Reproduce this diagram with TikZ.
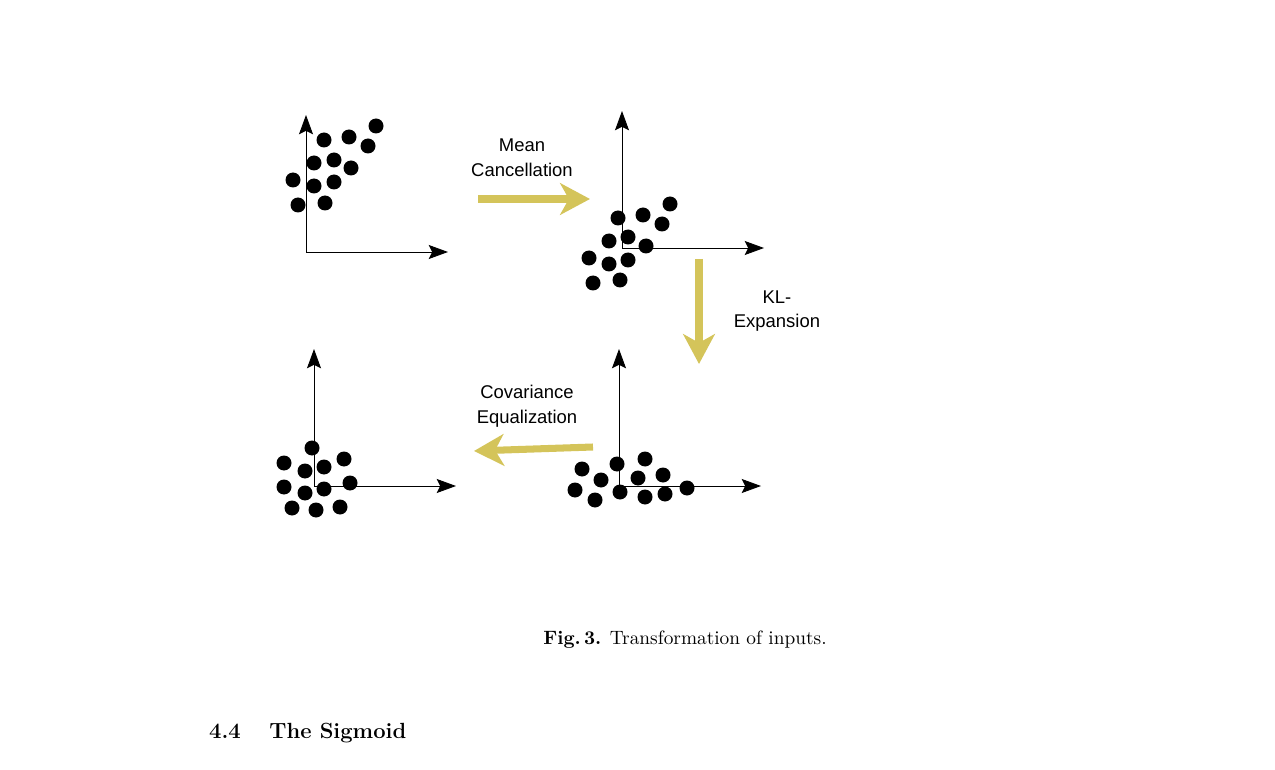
\documentclass[tikz,border=0pt]{standalone}
\usepackage{fontspec}
\usepackage{xcolor}
\usetikzlibrary{arrows.meta}
\newfontfamily\labelfont{Liberation Sans}
\setmainfont{Latin Modern Roman}
\definecolor{mustard}{RGB}{212,196,90}

\begin{document}
\begin{tikzpicture}[x=0.02cm, y=-0.02cm,
        axis/.style={-{Stealth[length=11pt,width=8pt,inset=2pt]}, line width=0.5pt},
        dot/.style={fill=black},
        transform arrow/.style={mustard, line width=4pt, -{Stealth[length=17pt,width=18pt,inset=5pt]}},
        lbl/.style={font=\labelfont\fontsize{10.5}{14}\selectfont, align=center}]
        \useasboundingbox (0,0) rectangle (1275,770);

        % Parameters
        \def\dotRadius{7.5}

        % axes of the four panels
        \foreach \name/\ox/\oy in {A/306/252, B/622/248, C/619/486, D/314/486} {
            \coordinate (\name) at (\ox,\oy);
            \draw[axis] (\name) -- ++(0,-137);
            \draw[axis] (\name) -- ++(142,0);
        }

        % raw inputs
        \foreach \x/\y in {324/140,349/137,376/126,368/146,314/163,334/160,351/168,
                           293/180,314/186,334/182,298/205,325/203}
            \fill[dot] (\x,\y) circle (\dotRadius);

        % mean cancelled
        \foreach \x/\y in {618/218,643/215,670/204,662/224,609/241,628/237,646/246,
                           589/258,609/264,628/260,593/283,620/280}
            \fill[dot] (\x,\y) circle (\dotRadius);

        % KL expanded
        \foreach \x/\y in {582/469,617/464,645/459,601/480,638/478,663/475,
                           575/490,620/492,595/500,645/497,665/494,687/488}
            \fill[dot] (\x,\y) circle (\dotRadius);

        % covariance equalized
        \foreach \x/\y in {312/448,284/463,305/471,324/467,344/459,284/487,
                           305/493,324/489,350/483,292/508,316/510,340/507}
            \fill[dot] (\x,\y) circle (\dotRadius);

        % transformation arrows
        \coordinate (meanStart) at (478,199);
        \coordinate (meanEnd) at (590,199);
        \coordinate (klStart) at (699,259);
        \coordinate (klEnd) at (699,364);
        \coordinate (covStart) at (593,447);
        \coordinate (covEnd) at (474,451);
        \draw[transform arrow] (meanStart) -- (meanEnd);
        \draw[transform arrow] (klStart) -- (klEnd);
        \draw[transform arrow] (covStart) -- (covEnd);

        % Text
        \node[lbl] (meanLabel) at (522,158) {Mean\\Cancellation};
        \node[lbl] (klLabel) at (777,311) {KL-\\Expansion};
        \node[lbl] (covLabel) at (527,406) {Covariance\\Equalization};

        \node[font=\fontsize{11}{13}\selectfont] (caption) at (685,640)
            {\textbf{Fig.\,3.} Transformation of inputs.};
        \node[anchor=west, font=\fontsize{12.5}{15}\selectfont\bfseries] (heading) at (203,733)
            {4.4\hspace{1.3em}The Sigmoid};
\end{tikzpicture}
\end{document}
